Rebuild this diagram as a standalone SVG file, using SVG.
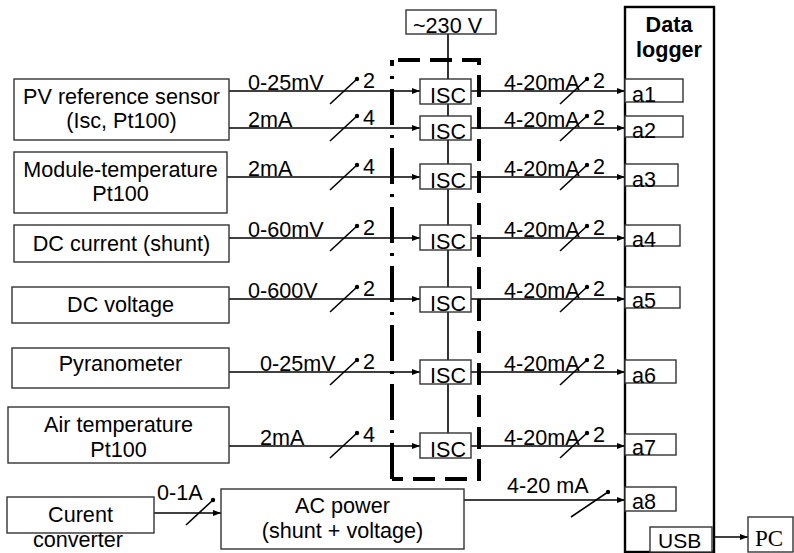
<svg xmlns="http://www.w3.org/2000/svg" width="794" height="553" viewBox="0 0 794 553">
<style>
text{font-family:"Liberation Sans",Arial,sans-serif;font-size:21.6px;fill:#000}
.box{fill:#fff;stroke:#333;stroke-width:1.4}
.c{text-anchor:middle}
.ln{stroke:#000;stroke-width:1.6;fill:none}
.sl{stroke:#000;stroke-width:1.6}
.dash{stroke:#000;stroke-width:4;fill:none;stroke-dasharray:22 10}
</style>
<defs>
<marker id="ah" markerUnits="userSpaceOnUse" markerWidth="9" markerHeight="7" refX="8" refY="3" orient="auto">
<path d="M0,0 L8,3 L0,6 z" fill="#000"/>
</marker>
</defs>
<rect width="794" height="553" fill="#fff"/>

<g id="isc-bus">
<line class="ln" x1="448" y1="34" x2="448" y2="433" stroke-width="1.3"/>
</g>

<g id="isc-enclosure">
<path class="dash" d="M398,60 H479 V479 H392"/>
<path d="M392,479 V60" stroke="#000" stroke-width="4" fill="none" stroke-dasharray="36 10 3 10"/>
</g>

<g id="connectors">
<line class="ln" x1="229" y1="91" x2="420" y2="91" marker-end="url(#ah)"/>
<line class="ln" x1="229" y1="128" x2="420" y2="128" marker-end="url(#ah)"/>
<line class="ln" x1="227" y1="177" x2="420" y2="177" marker-end="url(#ah)"/>
<line class="ln" x1="229" y1="238" x2="420" y2="238" marker-end="url(#ah)"/>
<line class="ln" x1="229" y1="299" x2="420" y2="299" marker-end="url(#ah)"/>
<line class="ln" x1="229" y1="372" x2="420" y2="372" marker-end="url(#ah)"/>
<line class="ln" x1="229" y1="446" x2="420" y2="446" marker-end="url(#ah)"/>
<line class="ln" x1="471" y1="91" x2="625" y2="91" marker-end="url(#ah)"/>
<line class="ln" x1="471" y1="128" x2="625" y2="128" marker-end="url(#ah)"/>
<line class="ln" x1="471" y1="177" x2="625" y2="177" marker-end="url(#ah)"/>
<line class="ln" x1="471" y1="238" x2="625" y2="238" marker-end="url(#ah)"/>
<line class="ln" x1="471" y1="299" x2="625" y2="299" marker-end="url(#ah)"/>
<line class="ln" x1="471" y1="372" x2="625" y2="372" marker-end="url(#ah)"/>
<line class="ln" x1="471" y1="446" x2="625" y2="446" marker-end="url(#ah)"/>
<line class="ln" x1="154" y1="513" x2="221" y2="513" marker-end="url(#ah)"/>
<line class="ln" x1="464" y1="500" x2="625" y2="500" marker-end="url(#ah)"/>
<line class="ln" x1="714" y1="537" x2="748" y2="537" marker-end="url(#ah)"/>

<g id="slashes">
<line class="sl" x1="330" y1="104" x2="357" y2="79"/><circle cx="357" cy="79" r="2.2"/>
<line class="sl" x1="330" y1="141" x2="357" y2="116"/><circle cx="357" cy="116" r="2.2"/>
<line class="sl" x1="330" y1="190" x2="357" y2="165"/><circle cx="357" cy="165" r="2.2"/>
<line class="sl" x1="330" y1="251" x2="357" y2="226"/><circle cx="357" cy="226" r="2.2"/>
<line class="sl" x1="330" y1="312" x2="357" y2="287"/><circle cx="357" cy="287" r="2.2"/>
<line class="sl" x1="330" y1="385" x2="357" y2="360"/><circle cx="357" cy="360" r="2.2"/>
<line class="sl" x1="330" y1="458" x2="357" y2="433"/><circle cx="357" cy="433" r="2.2"/>
<line class="sl" x1="560" y1="104" x2="587" y2="79"/><circle cx="587" cy="79" r="2.2"/>
<line class="sl" x1="560" y1="141" x2="587" y2="116"/><circle cx="587" cy="116" r="2.2"/>
<line class="sl" x1="560" y1="190" x2="587" y2="165"/><circle cx="587" cy="165" r="2.2"/>
<line class="sl" x1="560" y1="251" x2="587" y2="226"/><circle cx="587" cy="226" r="2.2"/>
<line class="sl" x1="560" y1="312" x2="587" y2="287"/><circle cx="587" cy="287" r="2.2"/>
<line class="sl" x1="560" y1="385" x2="587" y2="360"/><circle cx="587" cy="360" r="2.2"/>
<line class="sl" x1="560" y1="458" x2="587" y2="433"/><circle cx="587" cy="433" r="2.2"/>
<line class="sl" x1="186" y1="525" x2="213" y2="500"/><circle cx="213" cy="500" r="2.2"/>
<line class="sl" x1="571" y1="517" x2="608" y2="492"/><circle cx="608" cy="492" r="2.2"/>
</g>

<g id="labels">
<text x="248" y="90">0-25mV</text><text x="363" y="88">2</text>
<text x="248" y="127">2mA</text><text x="363" y="125">4</text>
<text x="248" y="176">2mA</text><text x="363" y="174">4</text>
<text x="248" y="237">0-60mV</text><text x="363" y="235">2</text>
<text x="248" y="298">0-600V</text><text x="363" y="296">2</text>
<text x="260" y="371">0-25mV</text><text x="363" y="369">2</text>
<text x="260" y="445">2mA</text><text x="363" y="442">4</text>
<text x="504" y="90">4-20mA</text><text x="593" y="88">2</text>
<text x="504" y="127">4-20mA</text><text x="593" y="125">2</text>
<text x="504" y="176">4-20mA</text><text x="593" y="174">2</text>
<text x="504" y="237">4-20mA</text><text x="593" y="235">2</text>
<text x="504" y="298">4-20mA</text><text x="593" y="296">2</text>
<text x="504" y="371">4-20mA</text><text x="593" y="369">2</text>
<text x="504" y="445">4-20mA</text><text x="593" y="442">2</text>
<text x="157" y="500">0-1A</text>
<text x="507" y="493">4-20 mA</text>
</g>
</g>

<g id="pv-sensor"><rect class="box" x="14" y="79" width="215" height="61"/>
<text class="c" x="121.5" y="104">PV reference sensor</text><text class="c" x="121.5" y="128">(Isc, Pt100)</text></g>
<g id="module-temp"><rect class="box" x="14" y="152" width="213" height="61"/>
<text class="c" x="120.5" y="177">Module-temperature</text><text class="c" x="120.5" y="201">Pt100</text></g>
<g id="dc-current"><rect class="box" x="14" y="225" width="215" height="37"/>
<text class="c" x="121.5" y="251">DC current (shunt)</text></g>
<g id="dc-voltage"><rect class="box" x="12" y="287" width="217" height="36"/>
<text class="c" x="120.5" y="312">DC voltage</text></g>
<g id="pyranometer"><rect class="box" x="12" y="348" width="217" height="40"/>
<text class="c" x="120.5" y="371">Pyranometer</text></g>
<g id="air-temp"><rect class="box" x="8" y="407" width="221" height="56"/>
<text class="c" x="118.5" y="432">Air temperature</text><text class="c" x="118.5" y="457">Pt100</text></g>
<g id="current-converter"><rect class="box" x="7" y="497" width="147" height="36"/>
<text class="c" x="80.5" y="522">Curent</text><text class="c" x="78" y="547">converter</text></g>
<g id="ac-power"><rect class="box" x="221" y="489" width="243" height="60"/>
<text class="c" x="342.5" y="513">AC power</text><text class="c" x="342.5" y="538">(shunt + voltage)</text></g>

<g id="mains"><rect class="box" x="406" y="10" width="90" height="24"/>
<text x="413" y="33">~230 V</text></g>

<g id="isc1"><rect class="box" x="420" y="79" width="51" height="25"/><text x="430" y="103">ISC</text></g>
<g id="isc2"><rect class="box" x="420" y="116" width="51" height="24"/><text x="430" y="139">ISC</text></g>
<g id="isc3"><rect class="box" x="420" y="164" width="51" height="25"/><text x="430" y="188">ISC</text></g>
<g id="isc4"><rect class="box" x="420" y="225" width="51" height="25"/><text x="430" y="249">ISC</text></g>
<g id="isc5"><rect class="box" x="420" y="287" width="51" height="25"/><text x="430" y="311">ISC</text></g>
<g id="isc6"><rect class="box" x="420" y="360" width="51" height="24"/><text x="430" y="383">ISC</text></g>
<g id="isc7"><rect class="box" x="420" y="433" width="51" height="25"/><text x="430" y="457">ISC</text></g>

<g id="data-logger">
<rect x="625" y="7" width="89" height="545" fill="none" stroke="#000" stroke-width="2.4"/>
<text class="c" x="669" y="32" font-weight="bold">Data</text>
<text class="c" x="669" y="57" font-weight="bold">logger</text>
<rect class="box" x="625" y="79" width="58" height="23" fill="none"/><text x="632" y="102">a1</text>
<rect class="box" x="625" y="116" width="58" height="21" fill="none"/><text x="632" y="138">a2</text>
<rect class="box" x="625" y="164" width="53" height="22" fill="none"/><text x="632" y="187">a3</text>
<rect class="box" x="625" y="225" width="55" height="21" fill="none"/><text x="632" y="247">a4</text>
<rect class="box" x="625" y="287" width="55" height="21" fill="none"/><text x="632" y="308">a5</text>
<rect class="box" x="625" y="360" width="51" height="23" fill="none"/><text x="632" y="383">a6</text>
<rect class="box" x="625" y="434" width="51" height="21" fill="none"/><text x="632" y="455">a7</text>
<rect class="box" x="625" y="487" width="51" height="24" fill="none"/><text x="632" y="509">a8</text>
<rect class="box" x="650" y="527" width="62" height="25"/><text x="658" y="548" style="font-size:21px">USB</text>
</g>

<g id="pc"><rect class="box" x="748" y="517" width="45" height="35"/>
<text x="755" y="546" style="font-family:'Liberation Serif','Times New Roman',serif;font-size:23px">PC</text></g>
</svg>
